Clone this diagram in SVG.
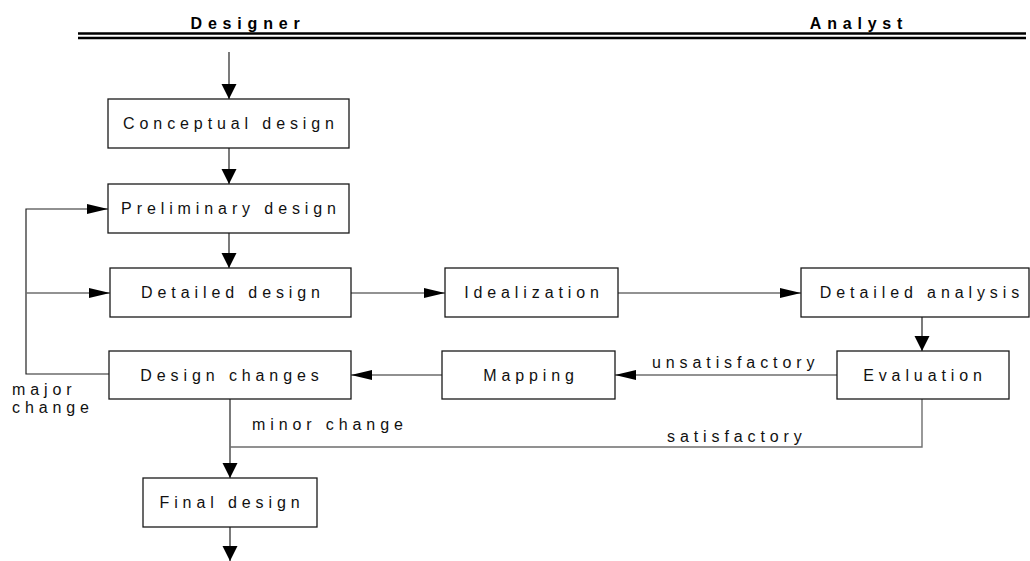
<svg xmlns="http://www.w3.org/2000/svg" width="1030" height="561" viewBox="0 0 1030 561">
<style>
.box{fill:#fff;stroke:#1a1a1a;stroke-width:1.3}
.t{font-family:"Liberation Sans",Arial,sans-serif;font-size:16px;letter-spacing:4.9px;fill:#111}
.m{text-anchor:middle}
.h{font-family:"Liberation Sans",Arial,sans-serif;font-size:16px;font-weight:bold;letter-spacing:5.8px;fill:#000;text-anchor:middle}
.c{fill:none;stroke:#222;stroke-width:1.2}
.g{stroke:#6e6e6e;stroke-width:1.4}
.ch{marker-end:url(#ah)}
.cv{marker-end:url(#av)}
</style>
<defs>
<marker id="ah" markerUnits="userSpaceOnUse" markerWidth="22" markerHeight="12" viewBox="0 0 22 12" refX="21" refY="6" orient="auto"><path d="M0,1 L21,6 L0,11 Z" fill="#000"/></marker>
<marker id="av" markerUnits="userSpaceOnUse" markerWidth="16" markerHeight="16" viewBox="0 0 16 16" refX="15" refY="8" orient="auto"><path d="M0,0.5 L15,8 L0,15.5 Z" fill="#000"/></marker>
</defs>
<g id="header">
<text class="h" x="248" y="29">Designer</text>
<text class="h" x="859" y="29">Analyst</text>
<line x1="78" y1="33.5" x2="1026" y2="33.5" stroke="#000" stroke-width="2.4"/>
<line x1="78" y1="38" x2="1026" y2="38" stroke="#000" stroke-width="2.4"/>
</g>
<g id="connectors">
<line class="c cv" x1="229" y1="52" x2="229" y2="99"/>
<line class="c cv" x1="229" y1="148" x2="229" y2="184"/>
<line class="c cv" x1="229" y1="233" x2="229" y2="268"/>
<line class="c g ch" x1="351" y1="293" x2="445" y2="293"/>
<line class="c g ch" x1="618" y1="293" x2="801" y2="293"/>
<line class="c cv" x1="922" y1="317" x2="922" y2="351"/>
<line class="c g ch" x1="837" y1="375" x2="615" y2="375"/>
<line class="c ch" x1="442" y1="375" x2="351" y2="375"/>
<polyline class="c ch" points="109,374 26,374 26,209 108,209"/>
<line class="c g ch" x1="26" y1="293" x2="110" y2="293"/>
<line class="c cv" x1="230" y1="399" x2="230" y2="478"/>
<polyline class="c g" points="922,399 922,447 230,447"/>
<line class="c cv" x1="230" y1="527" x2="230" y2="561"/>
<text class="t" x="652" y="368">unsatisfactory</text>
<text class="t" x="667" y="442">satisfactory</text>
<text class="t" x="252" y="430">minor change</text>
<text class="t" x="12" y="395">major</text>
<text class="t" x="12" y="413">change</text>
</g>
<g id="conceptual">
<rect class="box" x="108" y="99" width="241" height="49"/>
<text class="t m" x="231" y="128.5">Conceptual design</text>
</g>
<g id="preliminary">
<rect class="box" x="108" y="184" width="241" height="49"/>
<text class="t m" x="231" y="213.5">Preliminary design</text>
</g>
<g id="detailed-design">
<rect class="box" x="110" y="268" width="241" height="49"/>
<text class="t m" x="233" y="297.5">Detailed design</text>
</g>
<g id="idealization">
<rect class="box" x="445" y="268" width="173" height="49"/>
<text class="t m" x="534" y="297.5">Idealization</text>
</g>
<g id="detailed-analysis">
<rect class="box" x="801" y="268" width="228" height="49"/>
<text class="t m" x="922" y="297.5">Detailed analysis</text>
</g>
<g id="evaluation">
<rect class="box" x="837" y="351" width="172" height="48"/>
<text class="t m" x="925" y="380.5">Evaluation</text>
</g>
<g id="mapping">
<rect class="box" x="442" y="351" width="173" height="48"/>
<text class="t m" x="531" y="380.5">Mapping</text>
</g>
<g id="design-changes">
<rect class="box" x="109" y="351" width="242" height="48"/>
<text class="t m" x="232" y="380.5">Design changes</text>
</g>
<g id="final-design">
<rect class="box" x="143" y="478" width="174" height="49"/>
<text class="t m" x="232" y="507.5">Final design</text>
</g>
</svg>
